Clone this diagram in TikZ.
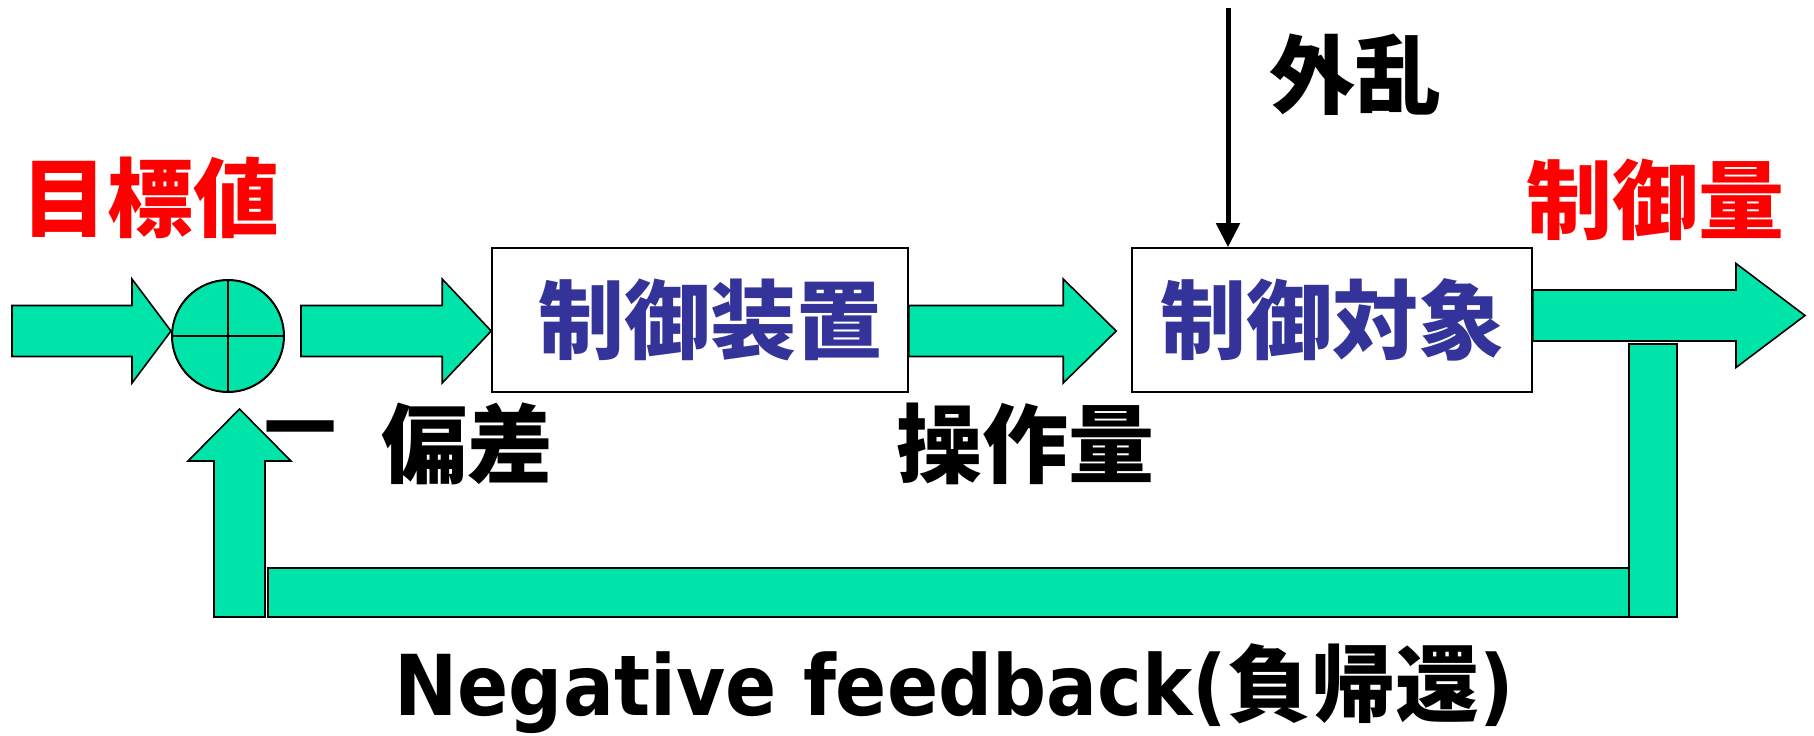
\documentclass[tikz,border=0pt]{standalone}
\usepackage{fontspec}
\usepackage{tikz}
\usetikzlibrary{calc,positioning,arrows.meta}
\newfontfamily\cjkfont{Noto Sans CJK JP}
\newfontfamily\latinfont{DejaVu Sans}[FakeStretch=0.9]
\definecolor{flowgreen}{HTML}{00E3A9}
\definecolor{plantblue}{HTML}{333399}
\definecolor{signalred}{HTML}{FF0000}

% fat arrow pointing right: tail, tip, head length (px)
\newcommand{\flowarrow}[3]{%
  \draw[flow] let \p1=(#1), \p2=(#2) in
    (\x1,\y1+12.75pt) -- ({\x2-#3*0.5pt},\y1+12.75pt) -- ({\x2-#3*0.5pt},\y1+26pt)
    -- (\x2,\y1) -- ({\x2-#3*0.5pt},\y1-26pt) -- ({\x2-#3*0.5pt},\y1-12.75pt)
    -- (\x1,\y1-12.75pt) -- cycle;}

\begin{document}
\begin{tikzpicture}[
  x=0.5pt, y=-0.5pt,
  flow/.style={draw=black, fill=flowgreen, line width=0.8pt, line join=miter},
  blockbox/.style={rectangle, draw=black, fill=white, line width=0.8pt, inner sep=0pt,
    minimum height=72pt, text=plantblue, font=\cjkfont\bfseries\fontsize{43}{50}\selectfont},
  sumnode/.style={circle, draw=black, fill=flowgreen, line width=1pt, inner sep=0pt, minimum size=56pt},
  redlabel/.style={text=signalred, inner sep=0pt, font=\cjkfont\bfseries\fontsize{43}{50}\selectfont},
  blacklabel/.style={text=black, inner sep=0pt, font=\cjkfont\bfseries\fontsize{43}{50}\selectfont},
  disturb/.style={-{Triangle[length=12pt,width=11.5pt]}, line width=2.5pt}
]
  \useasboundingbox (0,0) rectangle (1814,735);

  % ブロック
  \node[sumnode] (sum) at (228,336) {};
  \draw[line width=1pt] (sum.north) -- (sum.south) (sum.west) -- (sum.east);
  \node[blockbox, minimum width=208pt] (ctrl) at (700,320) {\hspace*{10pt}制御装置};
  \node[blockbox, minimum width=200pt] (plant) at (1332,320) {制御対象};

  % 信号の矢印
  \coordinate (ref) at (12,331);
  \coordinate (out) at (1805,315.5);
  \flowarrow{ref}{sum.west}{39}
  \flowarrow{$(sum.east)+(16,-5)$}{ctrl.west}{49}
  \flowarrow{$(ctrl.east)+(0,11)$}{$(plant.west)+(-15,0)$}{53}
  \flowarrow{$(plant.east)+(0,-4.5)$}{out}{69}

  % フィードバック
  \draw[flow] (1629,344) rectangle (1677,617);
  \draw[flow] (268,568) rectangle (1629,617);
  \coordinate (fbtip) at ($(sum.south)+(11.5,16)$);
  \draw[flow] (fbtip) -- ++(51.5,52) -- ++(-26,0) -- ++(0,156) -- ++(-51,0)
    -- ++(0,-156) -- ++(-26,0) -- cycle;

  % 外乱
  \coordinate (dist) at (1228,8);
  \draw[disturb] (dist) -- (dist |- plant.north);

  % ラベル
  \node[redlabel] (target) at (150,198) {目標値};
  \node[redlabel] (output) at (1655,200) {制御量};
  \node[blacklabel] (distlabel) at (1355,75) {外乱};
  \node[blacklabel, font=\cjkfont\bfseries\fontsize{36}{42}\selectfont] (minus) at (300,438) {一};
  \node[blacklabel] (error) at (467,444) {偏差};
  \node[blacklabel] (manip) at (1025,444) {操作量};
  \node[anchor=base west, inner sep=0pt, font=\fontsize{42}{50}\selectfont] (fblabel) at (394,715)
    {\latinfont\bfseries Negative feedback(\cjkfont 負帰還\latinfont )};
\end{tikzpicture}
\end{document}
